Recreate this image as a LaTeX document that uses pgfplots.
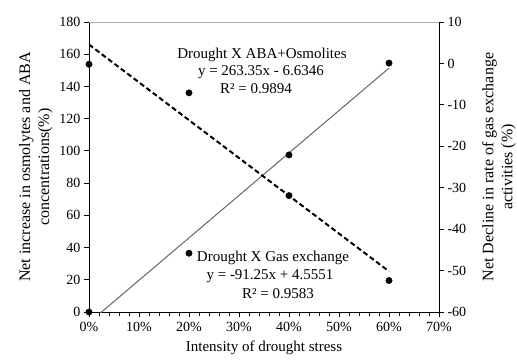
\documentclass[border=0pt]{standalone}
\usepackage{fontspec}
\setmainfont{Liberation Serif}
\usepackage{pgfplots}
\pgfplotsset{compat=1.18}
\begin{document}
\begin{tikzpicture}
\useasboundingbox (0,0) rectangle (517pt,360pt);
\begin{axis}[
  at={(89pt,48pt)}, anchor=south west,
  scale only axis, width=350pt, height=290pt,
  xmin=0, xmax=70, ymin=0, ymax=180,
  axis x line*=bottom, axis y line*=left,
  axis line style={-, black, line width=1pt},
  xtick={0,10,20,30,40,50,60,70},
  xticklabels={0\%,10\%,20\%,30\%,40\%,50\%,60\%,70\%},
  minor x tick num=4,
  ytick={0,20,...,180},
  tick align=outside,
  major tick length=5pt, minor tick length=4pt,
  tick style={black, line width=0.8pt},
  /pgf/number format/assume math mode=true,
  ticklabel style={font=\fontsize{14}{16}\selectfont},
  xticklabel style={yshift=-2pt},
  xlabel={Intensity of drought stress},
  xlabel style={font=\fontsize{15}{17}\selectfont, yshift=-2pt},
  ylabel={Net increase in osmolytes and ABA\\concentrations(\%)},
  ylabel style={font=\fontsize{16}{19}\selectfont, align=center},
  clip=true,
]
\draw[gray!60, line width=1pt] (rel axis cs:0,1) -- (rel axis cs:1,1);
% trendline ABA+Osmolites
\addplot[gray!80!black, line width=1pt, no marks] coordinates {(0,-6.6346) (60,151.38)};
\addplot[only marks, mark=*, mark size=3.2pt, black] coordinates {(0,0) (20,36.5) (40,97.5) (60,154.5)};
\node[font=\fontsize{15}{17}\selectfont] at (axis cs:34.6,159.5) {Drought X ABA+Osmolites};
\node[font=\fontsize{15}{17}\selectfont] at (axis cs:34.4,149) {y = 263.35x - 6.6346};
\node[font=\fontsize{15}{17}\selectfont] at (axis cs:33.4,138.5) {R² = 0.9894};
\node[font=\fontsize{15}{17}\selectfont] at (axis cs:36.8,33.5) {Drought X Gas exchange};
\node[font=\fontsize{15}{17}\selectfont] at (axis cs:36.2,22) {y = -91.25x + 4.5551};
\node[font=\fontsize{15}{17}\selectfont] at (axis cs:37.8,11.2) {R² = 0.9583};
\end{axis}
\begin{axis}[
  at={(89pt,48pt)}, anchor=south west,
  scale only axis, width=350pt, height=290pt,
  xmin=0, xmax=70, ymin=-60, ymax=10,
  axis x line=none, axis y line*=right,
  axis line style={-, black, line width=1pt},
  ytick={-60,-50,...,10},
  tick align=outside,
  major tick length=5pt,
  tick style={black, line width=0.8pt},
  /pgf/number format/assume math mode=true,
  ticklabel style={font=\fontsize{14}{16}\selectfont},
  ylabel={Net Decline in rate of gas exchange\\activities (\%)},
  ylabel style={font=\fontsize{16}{19}\selectfont, align=center, yshift=-9pt},
  clip=true,
]
\addplot[black, line width=2pt, dash pattern=on 5pt off 3pt, no marks] coordinates {(0,4.5551) (60,-50.195)};
\addplot[only marks, mark=*, mark size=3.2pt, black] coordinates {(0,-0.2) (20,-7.1) (40,-31.9) (60,-52.4)};
\end{axis}
\end{tikzpicture}
\end{document}
